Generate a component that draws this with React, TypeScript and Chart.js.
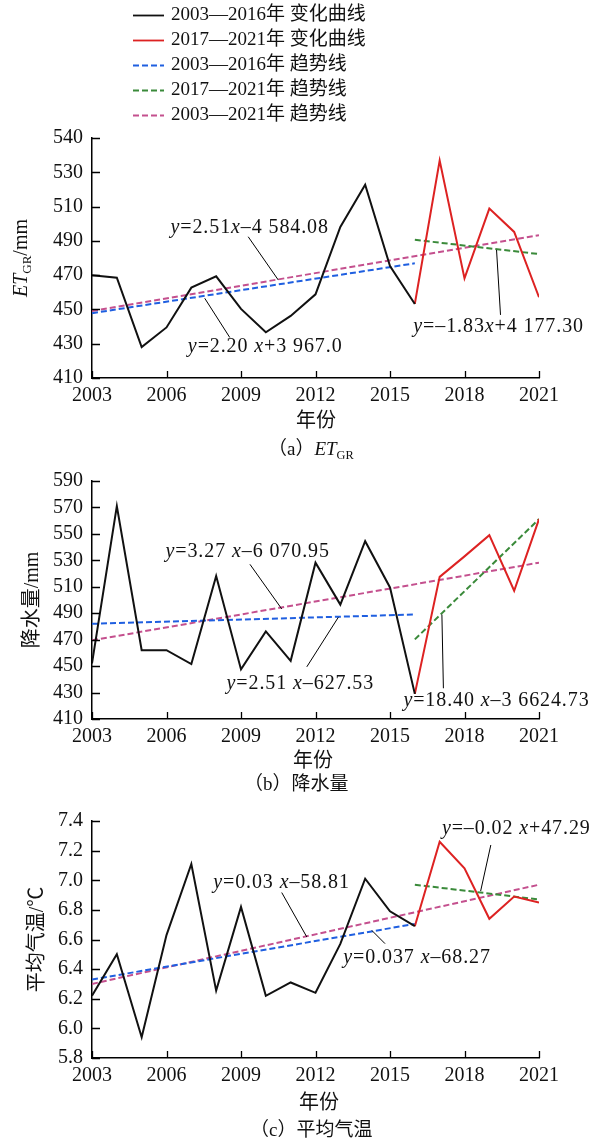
import React, { useEffect, useRef } from 'react';
import { Chart, registerables } from 'chart.js';

Chart.register(...registerables);

// ---------------- data ----------------
const YEARS = [2003, 2004, 2005, 2006, 2007, 2008, 2009, 2010, 2011, 2012, 2013, 2014, 2015, 2016, 2017, 2018, 2019, 2020, 2021];
const SPLIT_INDEX = 13; // 2016: end of the early period, start of the red segment

const ETGR = [470, 468.5, 428, 439.5, 462.7, 469.3, 450.3, 436.7, 446.2, 458.8, 498.1, 522.8, 475.3, 453.2, 536.9, 468.1, 508.8, 495.2, 457.1];
const PRECIP = [452, 571, 462, 462, 451.5, 518.2, 447.5, 476.2, 454, 528.2, 496.5, 544.5, 509.5, 429, 517.5, 533, 549, 507, 561.2];
const TEMP = [6.22, 6.5, 5.94, 6.63, 7.11, 6.255, 6.82, 6.22, 6.31, 6.24, 6.57, 7.01, 6.79, 6.69, 7.26, 7.08, 6.74, 6.89, 6.85];

// trend line end points (years)
const TREND_EARLY_YEARS = [2003, 2016];
const TREND_LATE_YEARS = [2016, 2021];
const TREND_ALL_YEARS = [2003, 2021];

const ETGR_TREND_EARLY = [447.8, 476.9];
const ETGR_TREND_LATE = [490.6, 482.3];
const ETGR_TREND_ALL = [449.1, 493.3];

const PRECIP_TREND_EARLY = [482, 489];
const PRECIP_TREND_LATE = [470.2, 561.2];
const PRECIP_TREND_ALL = [469.5, 528.2];

const TEMP_TREND_EARLY = [6.33, 6.705];
const TEMP_TREND_LATE = [6.97, 6.87];
const TEMP_TREND_ALL = [6.3, 6.97];

// tick labels
const X_TICK_LABELS = ['2003', '2006', '2009', '2012', '2015', '2018', '2021'];
const ETGR_TICK_LABELS = ['410', '430', '450', '470', '490', '510', '530', '540'];
const PRECIP_TICK_LABELS = ['410', '430', '450', '470', '490', '510', '530', '550', '570', '590'];
const TEMP_TICK_LABELS = ['5.8', '6.0', '6.2', '6.4', '6.6', '6.8', '7.0', '7.2', '7.4'];

const LEGEND_LABELS = [
  '2003—2016年 变化曲线',
  '2017—2021年 变化曲线',
  '2003—2016年 趋势线',
  '2017—2021年 趋势线',
  '2003—2021年 趋势线',
];

// ---------------- styles ----------------
const SERIF = '"Liberation Serif", "Times New Roman", "Noto Sans CJK SC", serif';
const C_BLACK = '#111111';
const C_RED = '#dd2222';
const C_BLUE = '#1f5fe0';
const C_GREEN = '#3a8a3a';
const C_PINK = '#c4508e';
const DASH = [6, 3];

type Seg = { t: string; italic?: boolean; sub?: boolean };

function fontOf(size: number, italic?: boolean) {
  return `${italic ? 'italic ' : ''}${size}px ${SERIF}`;
}

function segsOfEquation(s: string): Seg[] {
  const out: Seg[] = [];
  for (const ch of s) {
    const it = ch === 'x' || ch === 'y';
    const last = out[out.length - 1];
    if (last && !!last.italic === it) last.t += ch;
    else out.push({ t: ch, italic: it });
  }
  return out;
}

function richWidth(ctx: CanvasRenderingContext2D, segs: Seg[], size: number) {
  let w = 0;
  for (const s of segs) {
    ctx.font = fontOf(s.sub ? size * 0.65 : size, s.italic);
    w += ctx.measureText(s.t).width;
  }
  return w;
}

function drawRich(ctx: CanvasRenderingContext2D, segs: Seg[], x: number, y: number, size: number, align: 'left' | 'center') {
  ctx.textBaseline = 'middle';
  ctx.textAlign = 'left';
  let cx = align === 'center' ? x - richWidth(ctx, segs, size) / 2 : x;
  for (const s of segs) {
    const sz = s.sub ? size * 0.65 : size;
    ctx.font = fontOf(sz, s.italic);
    ctx.fillText(s.t, cx, s.sub ? y + size * 0.28 : y);
    cx += ctx.measureText(s.t).width;
  }
}

type Annot = { text: string; at: [number, number]; leader: [[number, number], [number, number]] };

type PanelCfg = {
  values: number[];
  trendEarly: number[];
  trendLate: number[];
  trendAll: number[];
  yMin: number;
  yMax: number;
  yStep: number;
  yTickLabels: string[];
  canvasTop: number;
  height: number;
  padTop: number;
  padBottom: number;
  yTitle: Seg[];
  yTitleX: number;
  caption: Seg[];
  captionX: number;
  xTitleX: number;
  xTitleOffset: number;
  captionOffset: number;
  annotations: Annot[];
  legend: boolean;
};

const decorPlugin = {
  id: 'panelDecor',
  afterDraw(chart: any, _args: any, opts: any) {
    const cfg: PanelCfg = opts.cfg;
    const { ctx, chartArea } = chart;
    const xs = chart.scales.x;
    const ys = chart.scales.y;
    ctx.save();
    ctx.fillStyle = C_BLACK;
    ctx.strokeStyle = '#000';

    // inward tick marks
    ctx.lineWidth = 1.3;
    ctx.beginPath();
    for (const t of xs.ticks) {
      const px = Math.round(xs.getPixelForValue(t.value)) + 0.5;
      ctx.moveTo(px, chartArea.bottom);
      ctx.lineTo(px, chartArea.bottom - 7);
    }
    for (const t of ys.ticks) {
      const py = Math.round(ys.getPixelForValue(t.value)) + 0.5;
      ctx.moveTo(chartArea.left, py);
      ctx.lineTo(chartArea.left + 8, py);
    }
    ctx.stroke();

    // annotations: equation text + leader line
    ctx.lineWidth = 1;
    for (const a of cfg.annotations) {
      const [l1, l2] = a.leader;
      ctx.beginPath();
      ctx.moveTo(xs.getPixelForValue(l1[0]), ys.getPixelForValue(l1[1]));
      ctx.lineTo(xs.getPixelForValue(l2[0]), ys.getPixelForValue(l2[1]));
      ctx.stroke();
      (ctx as any).letterSpacing = '0.9px';
      drawRich(ctx, segsOfEquation(a.text), xs.getPixelForValue(a.at[0]), ys.getPixelForValue(a.at[1]), 20, 'left');
      (ctx as any).letterSpacing = '0px';
    }

    // y-axis title (rotated)
    ctx.save();
    ctx.translate(cfg.yTitleX, (chartArea.top + chartArea.bottom) / 2);
    ctx.rotate(-Math.PI / 2);
    drawRich(ctx, cfg.yTitle, 0, 0, 20, 'center');
    ctx.restore();

    // x-axis title and caption
    drawRich(ctx, [{ t: '年份' }], cfg.xTitleX, chartArea.bottom + cfg.xTitleOffset, 20, 'center');
    drawRich(ctx, cfg.caption, cfg.captionX, chartArea.bottom + cfg.captionOffset, 19, 'left');

    // legend
    if (cfg.legend) {
      chart.data.datasets.forEach((ds: any, i: number) => {
        const cy = 15 + i * 25;
        ctx.beginPath();
        ctx.lineWidth = 1.8;
        ctx.strokeStyle = ds.borderColor;
        ctx.setLineDash(ds.borderDash || []);
        ctx.moveTo(133, cy + 0.5);
        ctx.lineTo(164, cy + 0.5);
        ctx.stroke();
        ctx.setLineDash([]);
        ctx.fillStyle = C_BLACK;
        drawRich(ctx, [{ t: ds.label }], 171, cy, 19, 'left');
      });
    }
    ctx.restore();
  },
};

function pts(xsArr: number[], ysArr: number[]) {
  return xsArr.map((x, i) => ({ x, y: ysArr[i] }));
}

function buildConfig(cfg: PanelCfg): any {
  const early = pts(YEARS.slice(0, SPLIT_INDEX + 1), cfg.values.slice(0, SPLIT_INDEX + 1));
  const late = pts(YEARS.slice(SPLIT_INDEX), cfg.values.slice(SPLIT_INDEX));
  const line = { pointRadius: 0, tension: 0, fill: false, borderWidth: 2 };
  return {
    type: 'line',
    data: {
      datasets: [
        { ...line, label: LEGEND_LABELS[0], data: early, borderColor: C_BLACK },
        { ...line, label: LEGEND_LABELS[1], data: late, borderColor: C_RED },
        { ...line, label: LEGEND_LABELS[2], data: pts(TREND_EARLY_YEARS, cfg.trendEarly), borderColor: C_BLUE, borderDash: DASH },
        { ...line, label: LEGEND_LABELS[3], data: pts(TREND_LATE_YEARS, cfg.trendLate), borderColor: C_GREEN, borderDash: DASH },
        { ...line, label: LEGEND_LABELS[4], data: pts(TREND_ALL_YEARS, cfg.trendAll), borderColor: C_PINK, borderDash: DASH },
      ],
    },
    options: {
      responsive: false,
      animation: false,
      devicePixelRatio: 1,
      layout: { padding: { top: cfg.padTop, right: 58, bottom: cfg.padBottom, left: 0 } },
      plugins: {
        legend: { display: false },
        tooltip: { enabled: false },
        panelDecor: { cfg },
      },
      scales: {
        x: {
          type: 'linear',
          min: 2003,
          max: 2021,
          grid: { display: false, drawTicks: false },
          border: { display: true, color: '#000', width: 1.5 },
          ticks: {
            stepSize: 3,
            autoSkip: false,
            maxRotation: 0,
            padding: 6,
            color: C_BLACK,
            font: { family: SERIF, size: 20 },
            callback: (_v: any, i: number) => X_TICK_LABELS[i],
          },
          afterFit: (s: any) => { s.height = 30; },
        },
        y: {
          type: 'linear',
          min: cfg.yMin,
          max: cfg.yMax,
          grid: { display: false, drawTicks: false },
          border: { display: true, color: '#000', width: 1.5 },
          ticks: {
            stepSize: cfg.yStep,
            autoSkip: false,
            padding: 9,
            color: C_BLACK,
            font: { family: SERIF, size: 20 },
            callback: (_v: any, i: number) => cfg.yTickLabels[i],
          },
          afterFit: (s: any) => { s.width = 92; },
        },
      },
    },
    plugins: [decorPlugin],
  };
}

const PANELS: PanelCfg[] = [
  {
    values: ETGR,
    trendEarly: ETGR_TREND_EARLY,
    trendLate: ETGR_TREND_LATE,
    trendAll: ETGR_TREND_ALL,
    yMin: 410, yMax: 550, yStep: 20,
    yTickLabels: ETGR_TICK_LABELS,
    canvasTop: 0, height: 460, padTop: 138, padBottom: 52,
    yTitle: [{ t: 'ET', italic: true }, { t: 'GR', sub: true }, { t: '/mm' }],
    yTitleX: 22,
    caption: [{ t: '（a）' }, { t: 'ET', italic: true }, { t: 'GR', sub: true }],
    captionX: 268,
    xTitleX: 316, xTitleOffset: 44, captionOffset: 72,
    annotations: [
      { text: 'y=2.51x–4 584.08', at: [2006.16, 497.5], leader: [[2009.29, 492.4], [2010.5, 467.2]] },
      { text: 'y=2.20 x+3 967.0', at: [2006.86, 428.4], leader: [[2008.55, 433.6], [2007.54, 456.5]] },
      { text: 'y=–1.83x+4 177.30', at: [2015.94, 439.7], leader: [[2019.45, 446.8], [2019.29, 484.7]] },
    ],
    legend: true,
  },
  {
    values: PRECIP,
    trendEarly: PRECIP_TREND_EARLY,
    trendLate: PRECIP_TREND_LATE,
    trendAll: PRECIP_TREND_ALL,
    yMin: 410, yMax: 590, yStep: 20,
    yTickLabels: PRECIP_TICK_LABELS,
    canvasTop: 460, height: 340, padTop: 19, padBottom: 51,
    yTitle: [{ t: '降水量/mm' }],
    yTitleX: 33,
    caption: [{ t: '（b）降水量' }],
    captionX: 244,
    xTitleX: 313, xTitleOffset: 43, captionOffset: 66,
    annotations: [
      { text: 'y=3.27 x–6 070.95', at: [2005.96, 536.45], leader: [[2009.36, 527], [2010.64, 493.25]] },
      { text: 'y=2.51 x–627.53', at: [2008.42, 436.5], leader: [[2011.65, 449.45], [2012.92, 486.95]] },
      { text: 'y=18.40 x–3 6624.73', at: [2015.54, 423.95], leader: [[2017.15, 433.25], [2017.09, 489]] },
    ],
    legend: false,
  },
  {
    values: TEMP,
    trendEarly: TEMP_TREND_EARLY,
    trendLate: TEMP_TREND_LATE,
    trendAll: TEMP_TREND_ALL,
    yMin: 5.8, yMax: 7.4, yStep: 0.2,
    yTickLabels: TEMP_TICK_LABELS,
    canvasTop: 800, height: 341, padTop: 17, padBottom: 53,
    yTitle: [{ t: '平均气温/℃' }],
    yTitleX: 38,
    caption: [{ t: '（c）平均气温' }],
    captionX: 250,
    xTitleX: 319, xTitleOffset: 46, captionOffset: 73,
    annotations: [
      { text: 'y=0.03 x–58.81', at: [2007.88, 6.983], leader: [[2010.64, 6.917], [2011.65, 6.617]] },
      { text: 'y=0.037 x–68.27', at: [2013.12, 6.479], leader: [[2014.8, 6.572], [2014.27, 6.661]] },
      { text: 'y=–0.02 x+47.29', at: [2017.09, 7.349], leader: [[2019.06, 7.238], [2018.65, 6.927]] },
    ],
    legend: false,
  },
];

function Panel({ cfg }: { cfg: PanelCfg }) {
  const ref = useRef<HTMLCanvasElement | null>(null);
  useEffect(() => {
    if (!ref.current) return;
    const chart = new Chart(ref.current, buildConfig(cfg));
    return () => chart.destroy();
  }, [cfg]);
  return (
    <canvas
      ref={ref}
      width={597}
      height={cfg.height}
      style={{ position: 'absolute', left: 0, top: cfg.canvasTop, width: 597, height: cfg.height }}
    />
  );
}

export default function App() {
  return (
    <div style={{ position: 'absolute', left: 0, top: 0, width: 597, height: 1141, background: '#ffffff', overflow: 'hidden' }}>
      {PANELS.map((p, i) => (
        <Panel key={i} cfg={p} />
      ))}
    </div>
  );
}
